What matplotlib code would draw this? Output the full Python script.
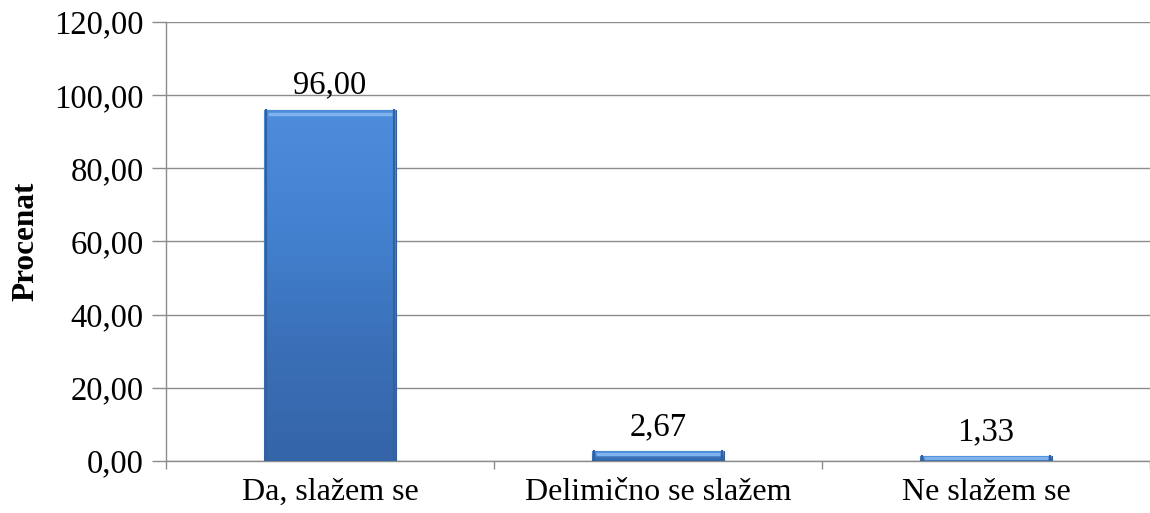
import matplotlib.pyplot as plt
import numpy as np
from matplotlib.colors import LinearSegmentedColormap

categories = ["Da, slažem se", "Delimično se slažem", "Ne slažem se"]
values = [96.00, 2.67, 1.33]
yticks = [0, 20, 40, 60, 80, 100, 120]

plt.rcParams["font.family"] = ["Liberation Serif", "DejaVu Serif"]


def fmt(v):
    return f"{v:.2f}".replace(".", ",")


fig = plt.figure(figsize=(11.5, 5.13), dpi=100)
ax = fig.add_axes([0.1443, 0.1014, 0.8557, 0.8557])

x = np.arange(len(categories))
bars = ax.bar(x, values, width=0.4, color="#4282d2", edgecolor="#2f5f9c",
              linewidth=0.8, zorder=3)

# vertical gradient on each bar to mimic the bevelled look
cmap = LinearSegmentedColormap.from_list("bev", ["#4d8ddb", "#4382d0", "#3a70b8", "#3564a8"])
grad = np.linspace(0, 1, 256).reshape(-1, 1)
for b, v in zip(bars, values):
    x0, w, h = b.get_x(), b.get_width(), b.get_height()
    im = ax.imshow(grad, cmap=cmap, aspect="auto", extent=(x0, x0 + w, 0, h),
                   origin="upper", zorder=3.5, interpolation="bicubic")
    im.set_clip_path(b)
    # light top bevel and darker side edges
    ax.plot([x0 + 0.012, x0 + w - 0.012], [h - min(1.2, h * 0.3)] * 2,
            color="#7fb3ee", lw=2.5, zorder=4, solid_capstyle="butt")
    ax.plot([x0 + 0.005, x0 + 0.005], [0, h], color="#32619c", lw=1.5, zorder=4)
    ax.plot([x0 + w - 0.005, x0 + w - 0.005], [0, h], color="#32619c", lw=1.5, zorder=4)
    ax.text(x0 + w / 2, h + 2.5, fmt(v), ha="center", va="bottom",
            fontsize=23.5, zorder=5)

ax.set_xlim(-0.5, len(categories) - 0.5)
ax.set_ylim(0, 120)
ax.set_yticks(yticks)
ax.set_yticklabels([fmt(v) for v in yticks], fontsize=23.5)
ax.set_xticks(x)
ax.set_xticklabels(categories, fontsize=23)
ax.set_xticks(np.arange(len(categories) + 1) - 0.5, minor=True)
ax.tick_params(axis="x", which="major", length=0, pad=12)
ax.tick_params(axis="x", which="minor", length=6, width=1, color="#8c8c8c", direction="out")
ax.tick_params(axis="y", length=10, width=1, color="#8c8c8c", direction="out", pad=6)

ax.grid(axis="y", color="#8c8c8c", lw=1, zorder=0)
for s in ["top", "right"]:
    ax.spines[s].set_visible(False)
for s in ["left", "bottom"]:
    ax.spines[s].set_color("#8c8c8c")
    ax.spines[s].set_linewidth(1)

ax.set_ylabel("Procenat", fontsize=22.5, fontweight="bold", labelpad=10)

fig.savefig("out.png", dpi=100)
